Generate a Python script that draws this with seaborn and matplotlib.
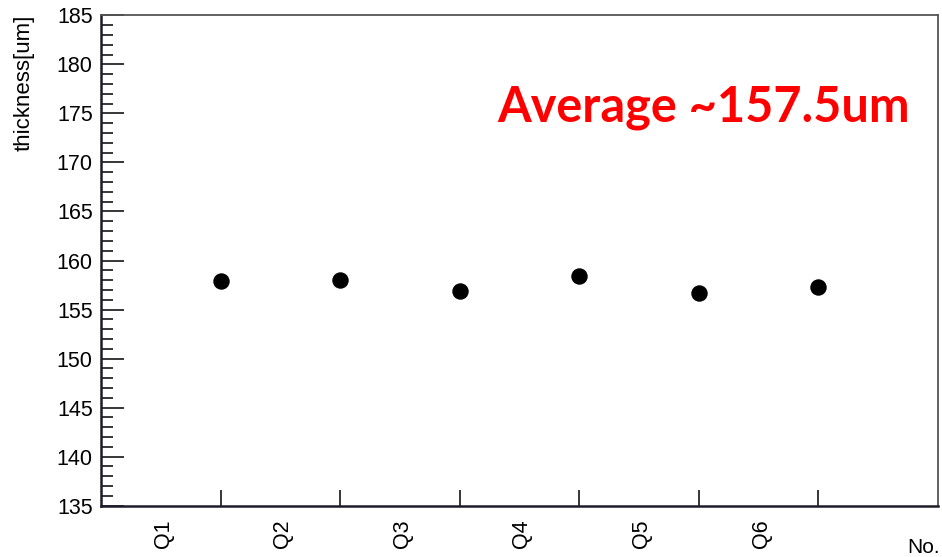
import matplotlib
matplotlib.use("Agg")
import matplotlib.pyplot as plt
import seaborn as sns
import pandas as pd
from matplotlib.ticker import MultipleLocator, FixedLocator, NullFormatter

# Measured wafer thickness per sample
samples = ["Q1", "Q2", "Q3", "Q4", "Q5", "Q6"]
thickness = [157.9, 158.0, 156.9, 158.4, 156.7, 157.3]
y_ticks = [135, 140, 145, 150, 155, 160, 165, 170, 175, 180, 185]
average_label = "Average ~157.5um"

sns.set_style("white")
plt.rcParams["font.family"] = ["Liberation Sans", "DejaVu Sans"]
plt.rcParams["text.color"] = "black"

W, H = 942, 557
fig = plt.figure(figsize=(W / 100, H / 100), dpi=100)
ax = fig.add_axes([101 / W, 1 - 505.7 / H, 837 / W, (505.7 - 15.3) / H])

df = pd.DataFrame({"no": range(1, len(samples) + 1), "thickness": thickness})
sns.scatterplot(data=df, x="no", y="thickness", ax=ax, color="black",
                s=140, linewidth=0, zorder=3, legend=False)

ax.set_xlim(0, 7)
ax.set_ylim(y_ticks[0], y_ticks[-1])
ax.set_xlabel("")
ax.set_ylabel("")

# y axis: major every 5, minor every 1, ticks pointing inward
ax.yaxis.set_major_locator(FixedLocator(y_ticks))
ax.yaxis.set_minor_locator(MultipleLocator(1))
ax.tick_params(axis="y", which="major", direction="in", length=16.5, width=1.1,
               labelsize=15.5, pad=6, right=False, left=True,
               color="black", labelcolor="black")
ax.tick_params(axis="y", which="minor", direction="in", length=8.6, width=1.1,
               right=False, left=True, color="black")

# x axis: ticks at bin edges, sample names centred in each bin
ax.xaxis.set_major_locator(FixedLocator(range(1, len(samples) + 1)))
ax.xaxis.set_major_formatter(NullFormatter())
ax.xaxis.set_minor_locator(FixedLocator([i + 0.52 for i in range(len(samples))]))
ax.set_xticklabels(samples, minor=True, rotation=90, va="top", ha="center")
ax.tick_params(axis="x", which="major", direction="in", length=11.5, width=1.1,
               top=False, bottom=True, color="black")
ax.tick_params(axis="x", which="minor", length=0, labelsize=15.5, pad=10,
               top=False, bottom=True, labelcolor="black")

for side in ["left", "bottom"]:
    ax.spines[side].set_color("#1c1c2a")
    ax.spines[side].set_linewidth(1.8)
for side in ["top", "right"]:
    ax.spines[side].set_color("#555555")
    ax.spines[side].set_linewidth(1.3)

fig.text(24 / W, 1 - 15 / H, "thickness[um]", rotation=90, ha="center",
         va="top", fontsize=16, color="black")
fig.text(940 / W, 1 - 553 / H, "No.", ha="right", va="baseline", fontsize=15,
         color="black")

fig.text(497 / W, 1 - 121 / H, average_label, color="#ff0000",
         fontsize=35, fontweight="bold", family=["Lato", "DejaVu Sans"],
         ha="left", va="baseline")

fig.savefig("out.png", dpi=100, facecolor="white")
